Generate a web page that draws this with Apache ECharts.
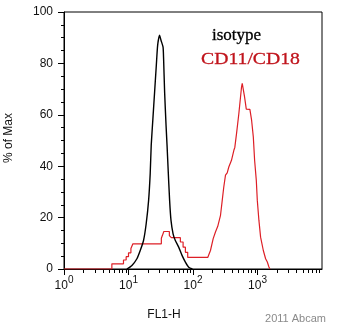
<!DOCTYPE html>
<html><head><meta charset="utf-8">
<script src="https://cdn.jsdelivr.net/npm/echarts@6/dist/echarts.min.js"></script>
<style>html,body{margin:0;padding:0;background:#fff}#c{width:337px;height:332px}</style>
</head><body><div id="c"></div>
<script>
// isotype (black) histogram: FL1-H value, % of Max
const isoX = [9.44,11.3,13.5,15.2,17.1,18.8,20.5,21.7,22.5,23.9,25.4,27.0,28.3,30.3,31.9,34.3,35.0,36.3,38.2,39.6,41.0,43.4,45.6,49.1,53.2,60.0,67.6,76.2,85.8,97.9];
const isoY = [0,1.4,4,7.2,11.1,17.6,26.7,37.1,48.1,58.5,68.9,79.3,87,91,89,86.4,81.9,68.9,55.9,48.1,39.7,26.7,18.9,13.7,11.1,8.5,5.3,2.7,0.7,0];
// CD11/CD18 (red) histogram vertices
const cdX = [1,5.52,5.52,8.36,8.36,9.2,9.2,10,10,10.9,10.9,11.7,11.7,32.3,32.3,33.5,33.5,35.3,35.3,43,43,46.1,46.1,63.7,63.7,70.2,70.2,76.2,76.2,82.8,82.8,169.3,186.5,205.6,223,242,251,267,284,300,319,339,359,395,430,445,473,514,546,566,580,601,630,670,762,810,861,902,958,993,1052,1117,1231,1336,1420,1504,1559];
const cdY = [0,0,2,2,3.5,3.5,4.8,4.8,6.3,6.3,8,8,9.8,9.8,12,12,13,13,14.6,14.6,13,13,12.2,12.2,10.5,10.5,8.5,8.5,6.5,6.5,4.5,4.5,7.2,11.8,14.4,16.6,17,20.9,26.7,31.9,36.5,37.4,39.7,42.3,46.2,47.3,52.7,60.5,67,70.9,72.2,72.2,67,62.2,62.1,57.9,51.4,42.3,34.5,26.7,18.9,12.4,7.2,4.0,2.7,0.8,0];
// axes
const xTickExponents = [0,1,2,3];
const xDecades = [1,10,100,1000];
const xMinorMultipliers = [2,3,4,5,6,7,8,9];
const yTicks = [0,20,40,60,80,100];
const seriesNames = ['isotype','CD11/CD18'];

const minorX = [];
xDecades.forEach(d => xMinorMultipliers.forEach(m => minorX.push([d*m, 0])));

const chart = echarts.init(document.getElementById('c'), null, {renderer:'canvas'});
const SANS = '"Liberation Sans", Arial, sans-serif';
const SERIF = '"Liberation Serif", "Times New Roman", serif';
chart.setOption({
  animation:false,
  backgroundColor:'#fff',
  grid:{left:64,right:15,top:12,bottom:63,show:true,borderColor:'#000',borderWidth:1,backgroundColor:'transparent'},
  xAxis:{type:'log',logBase:10,min:1,max:10000,
    axisLine:{lineStyle:{color:'#000',width:1}},
    axisTick:{length:6,lineStyle:{color:'#000'}},
    splitLine:{show:false},
    axisLabel:{margin:9,color:'#111',showMaxLabel:false,
      formatter:function(v){const e=Math.round(Math.log10(v)); if(xTickExponents.indexOf(e)<0) return ''; return '{b|10}{s|'+e+'}';},
      rich:{b:{fontSize:12,fontFamily:SANS,color:'#111',verticalAlign:'bottom',lineHeight:14},
            s:{fontSize:10,fontFamily:SANS,color:'#111',verticalAlign:'bottom',padding:[0,0,7,0],lineHeight:12}}}
  },
  yAxis:{type:'value',min:yTicks[0],max:yTicks[yTicks.length-1],interval:20,
    axisLine:{show:true,lineStyle:{color:'#000',width:1}},
    axisTick:{show:true,length:6,lineStyle:{color:'#000'}},
    minorTick:{show:true,splitNumber:4,length:3,lineStyle:{color:'#000'}},
    splitLine:{show:false},
    axisLabel:{margin:11,fontSize:12,fontFamily:SANS,color:'#111'}
  },
  series:[
    {name:seriesNames[1],type:'line',data:cdX.map((x,i)=>[x,cdY[i]]),showSymbol:false,symbol:'none',
     lineStyle:{color:'#dd1f26',width:1.2},z:3},
    {name:seriesNames[0],type:'line',data:isoX.map((x,i)=>[x,isoY[i]]),showSymbol:false,symbol:'none',smooth:0.2,
     lineStyle:{color:'#000',width:1.4},z:4},
    {type:'custom',data:minorX,clip:false,silent:true,z:1,
     renderItem:function(params,api){const p=api.coord([api.value(0),0]);const x=Math.round(p[0])+0.5;
       return {type:'line',shape:{x1:x,y1:p[1],x2:x,y2:p[1]+4},style:{stroke:'#000',lineWidth:1}};}}
  ],
  graphic:[
    {type:'text',x:9,y:138,rotation:Math.PI/2,style:{text:'% of Max',fontSize:12,fontFamily:SANS,fill:'#111',align:'center',verticalAlign:'middle'}},
    {type:'text',x:164,y:315,style:{text:'FL1-H',fontSize:12,fontFamily:SANS,fill:'#111',align:'center',verticalAlign:'middle'}},
    {type:'text',x:326,y:319,style:{text:'2011 Abcam',fontSize:11,fontFamily:SANS,fill:'#8a8a8a',align:'right',verticalAlign:'middle'}},
    {type:'text',x:212,y:36,style:{text:seriesNames[0],fontSize:17,fontFamily:SERIF,fill:'#000',align:'left',verticalAlign:'middle',stroke:'#000',lineWidth:0.3}},
    {type:'text',x:201,y:60,scaleX:1.16,style:{text:seriesNames[1],fontSize:17,fontFamily:SERIF,fill:'#c0141c',align:'left',verticalAlign:'middle',stroke:'#c0141c',lineWidth:0.3}}
  ]
});
</script></body></html>
